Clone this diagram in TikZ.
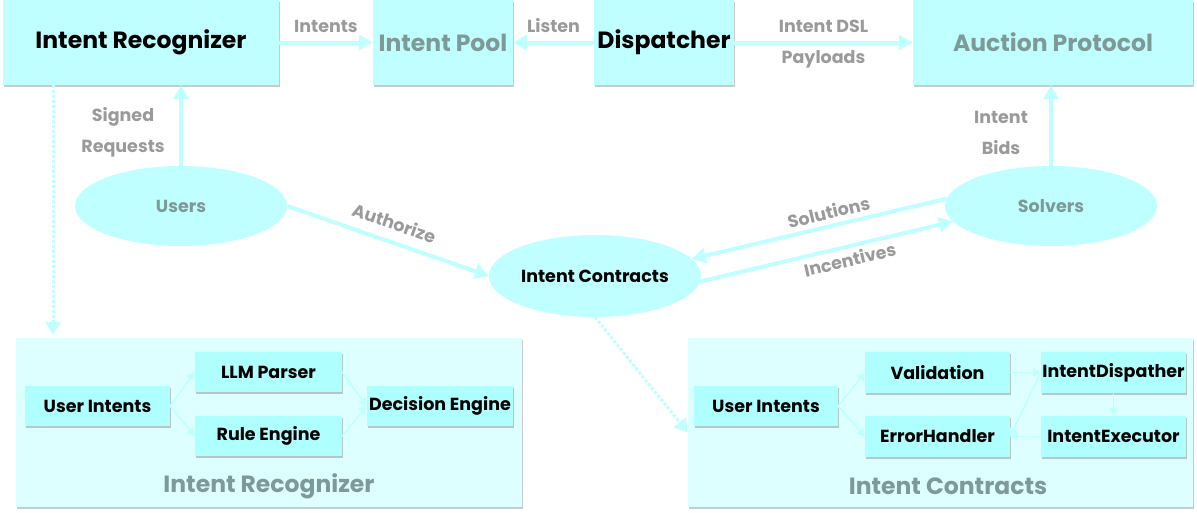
\documentclass[tikz,border=0pt]{standalone}
\usepackage{fontspec}
\setmainfont{Poppins}[BoldFont={* Bold}]
\usetikzlibrary{arrows.meta,shapes.geometric,shadows}
\definecolor{boxc}{HTML}{C0FFFF}
\definecolor{innerc}{HTML}{B0FFFF}
\definecolor{clc}{HTML}{DDFFFF}
\definecolor{linec}{HTML}{C0FFFF}
\definecolor{lblc}{HTML}{9A9A9A}
\definecolor{dimc}{HTML}{7F9999}
\begin{document}
\begin{tikzpicture}[x=1pt,y=-1pt,
  shd/.style={drop shadow={shadow xshift=1pt,shadow yshift=-2pt,opacity=0.35,fill=black!60}},
  topbox/.style={rectangle,fill=boxc,inner sep=0pt,shd,font=\bfseries\fontsize{23.5}{28}\selectfont},
  ell/.style={ellipse,fill=boxc,inner sep=0pt,minimum width=212pt,minimum height=80pt,font=\bfseries\fontsize{17.5}{20}\selectfont},
  cluster/.style={rectangle,fill=clc,inner sep=0pt,shd,minimum width=506pt,minimum height=169pt},
  cltitle/.style={text=dimc,font=\bfseries\fontsize{23.5}{28}\selectfont},
  inner/.style={rectangle,fill=innerc,inner sep=0pt,shd,minimum width=145pt,minimum height=40pt,font=\bfseries\fontsize{17.5}{20}\selectfont},
  bigarrow/.style={draw=linec,line width=4pt,-{Triangle[length=14pt,width=15pt]}},
  smallarrow/.style={draw=linec,line width=1.6pt,-{Triangle[length=8pt,width=9pt]}},
  dotarrow/.style={draw=linec,line width=3pt,dotted,-{Triangle[length=13pt,width=15pt]}},
  lbl/.style={text=lblc,font=\bfseries\fontsize{17.5}{31}\selectfont,inner sep=1pt}]
\useasboundingbox (0,0) rectangle (1197,512);
% clusters
\node[cluster] (lcl) at (269,422.5) {};
\node[cluster,minimum width=505pt] (rcl) at (940.5,422.5) {};
\node[cltitle] at (269,486) {Intent Recognizer};
\node[cltitle] at (948,486) {Intent Contracts};
% top boxes
\node[topbox,minimum width=276pt,minimum height=85pt] (ir) at (141,42.5) {Intent Recognizer};
\node[topbox,minimum width=140pt,minimum height=85pt,text=dimc] (pool) at (443,42.5) {Intent Pool};
\node[topbox,minimum width=140pt,minimum height=85pt] (disp) at (664,42.5) {Dispatcher};
\node[topbox,minimum width=280pt,minimum height=85pt,text=dimc] (auc) at (1053,42.5) {Auction Protocol};
% ellipses
\node[ell,text=dimc] (users) at (181,206) {Users};
\node[ell,text=dimc] (solvers) at (1051,206) {Solvers};
\node[ell,minimum height=82pt] (ic) at (595,276) {Intent Contracts};
% inner left
\node[inner] (ui1) at (97.5,406) {User Intents};
\node[inner,minimum width=147pt] (llm) at (268.5,372) {LLM Parser};
\node[inner,minimum width=147pt] (rule) at (268.5,436) {Rule Engine};
\node[inner,minimum width=146pt] (dec) at (440,406) {Decision Engine};
% inner right
\node[inner,minimum width=144pt] (ui2) at (766,406) {User Intents};
\node[inner,minimum height=41pt] (val) at (937.5,372.5) {Validation};
\node[inner,minimum height=41pt] (err) at (937.5,436.5) {ErrorHandler};
\node[inner,minimum height=41pt] (idisp) at (1113.5,372.5) {IntentDispather};
\node[inner,minimum height=41pt] (iexec) at (1113.5,436.5) {IntentExecutor};
% top connectors
\draw[bigarrow] (ir) -- (pool) node[lbl,midway,above=7pt] {Intents};
\draw[bigarrow] (disp) -- (pool) node[lbl,midway,above=7pt] {Listen};
\draw[bigarrow] (disp) -- (auc) node[lbl,midway,above=7pt] {Intent DSL} node[lbl,midway,below=5pt] {Payloads};
\draw[bigarrow] (users.north) -- (users.north |- ir.south);
\node[lbl,align=center] at (123,132.5) {Signed\\Requests};
\draw[bigarrow] (solvers.north) -- (solvers.north |- auc.south);
\node[lbl,align=center] at (1001,132.5) {Intent\\Bids};
\draw[bigarrow] (users.east) -- (ic.west) node[lbl,pos=0.5,above=9pt,sloped] {Authorize};
\draw[bigarrow] (solvers.176) -- (ic.10) node[lbl,pos=0.45,above=4pt,sloped] {Solutions};
\draw[bigarrow] (ic.-3) -- (solvers.189) node[lbl,pos=0.58,below=3pt,sloped] {Incentives};
% dotted connectors
\coordinate (dA) at (53,0);
\draw[dotarrow] (ir.south -| dA) -- ([yshift=3pt]dA |- lcl.north);
\draw[dotarrow] (ic.south) -- ([yshift=-10pt]rcl.west);
% inner connectors left
\draw[smallarrow] (ui1.east) -- (llm.west);
\draw[smallarrow] (ui1.east) -- (rule.west);
\draw[smallarrow] (llm.east) -- (dec.west);
\draw[smallarrow] (rule.east) -- (dec.west);
% inner connectors right
\draw[smallarrow] (ui2.east) -- (val.west);
\draw[smallarrow] (ui2.east) -- (err.west);
\draw[smallarrow] (val.east) -- (idisp.west);
\draw[smallarrow] (idisp.south) -- (iexec.north);
\draw[smallarrow] (iexec.west) -- (err.east);
\draw[smallarrow] (idisp.west) -- (err.east);
\end{tikzpicture}
\end{document}
